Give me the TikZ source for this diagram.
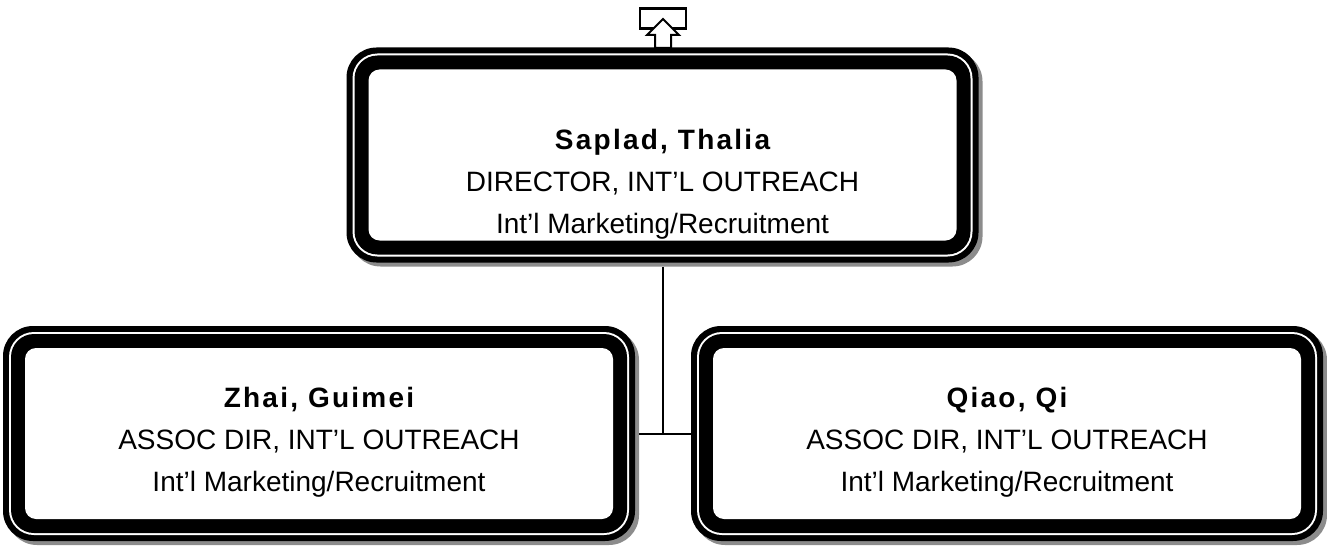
\documentclass[tikz,border=0pt]{standalone}
\usepackage{fontspec}
\setmainfont{Liberation Sans}
\newfontfamily\namefont[LetterSpace=8]{Liberation Sans Bold}
\usepackage{tikz}
\usetikzlibrary{positioning}
\usetikzlibrary{calc}
\tikzstyle{boxshadow}=[rectangle,fill=black!45,rounded corners=30pt,minimum width=632pt,minimum height=215pt,inner sep=0pt]
\tikzstyle{boxouter}=[rectangle,fill=black,rounded corners=30pt,minimum width=632pt,minimum height=215pt,inner sep=0pt]
\tikzstyle{boxgap}=[rectangle,fill=white,rounded corners=25pt,minimum width=620pt,minimum height=203pt,inner sep=0pt]
\tikzstyle{boxband}=[rectangle,fill=black,rounded corners=23pt,minimum width=616pt,minimum height=199pt,inner sep=0pt]
\tikzstyle{boxinner}=[rectangle,fill=white,rounded corners=11pt,minimum width=588pt,minimum height=171pt,inner sep=0pt]
\tikzstyle{boxtext}=[align=center,inner sep=0pt,font=\fontsize{28}{42}\selectfont]
\tikzstyle{link} = [draw,line width=2pt]
\tikzset{upbox/.style={rectangle,draw,line width=2.5pt,minimum width=46pt,minimum height=20pt,inner sep=0pt}}

\begin{document}
\begin{tikzpicture}[x=1pt,y=-1pt]

 \useasboundingbox (0,0) rectangle (1327,548);

 %Boxes
  \foreach \x/\y/\dy/\name/\who/\title in {662.5/155/29/dir/{Saplad, Thalia}/{DIRECTOR, INT’L OUTREACH},
         319/433.5/9/zhai/{Zhai, Guimei}/{ASSOC DIR, INT’L OUTREACH},
         1007/433.5/9/qiao/{Qiao, Qi}/{ASSOC DIR, INT’L OUTREACH}}
  {
   \node[boxshadow] at (\x+4,\y+4) {};
   \node[boxouter] (\name) at (\x,\y) {};
   \node[boxgap] at (\x,\y) {};
   \node[boxband] at (\x,\y) {};
   \node[boxinner] at (\x,\y) {};
   \node[boxtext] (\name-txt) at (\x,\y+\dy) {{\namefont\who}\\ \title\\ Int’l Marketing/Recruitment};
  }

 %Links
 \coordinate (jn) at (dir.south |- zhai.east);
 \path[link] ([yshift=-4pt]dir.south) -- (jn);
 \path[link] ([xshift=4pt]zhai.east) -- (qiao.west);

 %Up arrow
 \node[upbox] (up) at (663,18.5) {};
 \draw[line width=2pt,fill=white] (663,19) -- (679,35) -- (671,35) -- (671,48) -- (655,48) -- (655,35) -- (647,35) -- cycle;

\end{tikzpicture}
\end{document}
